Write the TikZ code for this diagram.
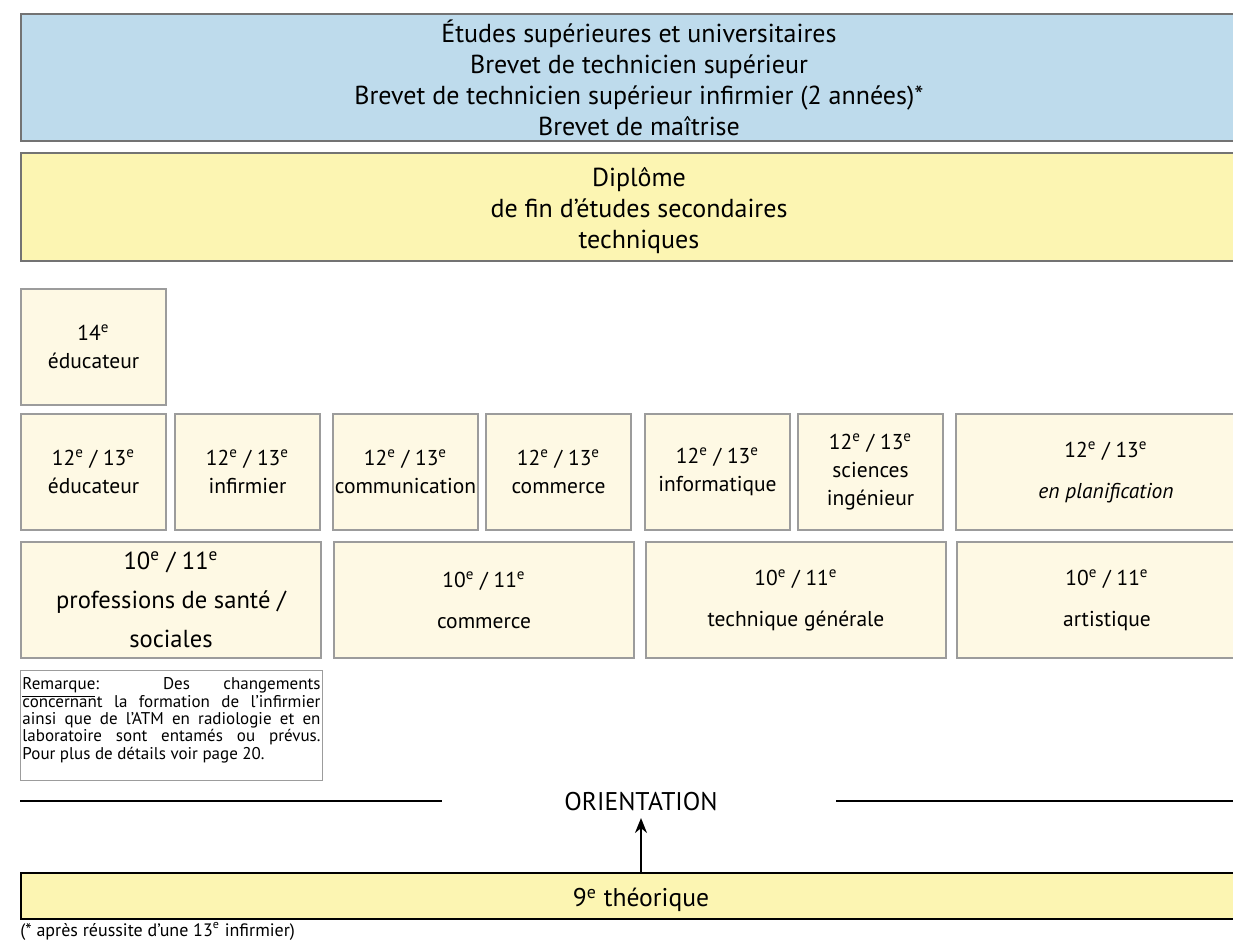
\documentclass[tikz,border=0pt]{standalone}
\usepackage{fontspec}
\setmainfont{PT Sans}
\usetikzlibrary{arrows.meta,positioning}
\definecolor{bleuhaut}{HTML}{BEDBEC}
\definecolor{jaune}{HTML}{FCF5B2}
\definecolor{creme}{HTML}{FEF9E4}
\definecolor{grisbord}{HTML}{9C9C9C}
\tikzset{
    %Define standard arrow tip
    >={Stealth[length=7.5pt,width=6pt]},
    %Define style for the wide bands
    bande/.style={
           rectangle,
           draw=black!55, line width=1pt,
           minimum width=618pt,
           inner sep=0pt,
           align=center,
           font=\fontsize{13}{15.5}\selectfont},
    %Define style for the class boxes
    classe/.style={
           rectangle,
           draw=grisbord, line width=1pt,
           fill=creme,
           minimum width=72.5pt,
           minimum height=58pt,
           inner sep=0pt,
           align=center,
           font=\fontsize{10.75}{14}\selectfont},
    double/.style={
           classe,
           minimum width=150pt,
           font=\fontsize{10.75}{20.5}\selectfont},
    % Define rule style
    trait/.style={
           line width=1pt}
}

\begin{document}
\begin{tikzpicture}
\useasboundingbox (0,0) rectangle (616.5pt,-471pt);
 %bands
\node[bande, fill=bleuhaut, minimum height=63.5pt, anchor=north west] (etudes) at (10pt,-6.5pt)
  {Études supérieures et universitaires\\Brevet de technicien supérieur\\Brevet de technicien supérieur infirmier (2 années)*\\Brevet de maîtrise};
\node[bande, fill=jaune, minimum height=54pt, below=5pt of etudes] (diplome)
  {\rule{0pt}{13.5pt}Diplôme\\de fin d’études secondaires\\techniques};
 %classes
\node[classe, below=13pt of diplome.south west, anchor=north west] (edu14) {14\textsuperscript{e}\\éducateur};
\node[classe, below=3.5pt of edu14] (edu12) {12\textsuperscript{e} / 13\textsuperscript{e}\\éducateur};
\node[classe, right=3.5pt of edu12] (inf12) {12\textsuperscript{e} / 13\textsuperscript{e}\\infirmier};
\node[classe, right=5.5pt of inf12] (comm12) {12\textsuperscript{e} / 13\textsuperscript{e}\\communication};
\node[classe, right=3pt of comm12] (com12) {12\textsuperscript{e} / 13\textsuperscript{e}\\commerce};
\node[classe, right=6pt of com12] (info12) {12\textsuperscript{e} / 13\textsuperscript{e}\\informatique};
\node[classe, right=3pt of info12] (sci12) {12\textsuperscript{e} / 13\textsuperscript{e}\\sciences\\ingénieur};
\node[double, right=5.5pt of sci12] (plan12) {12\textsuperscript{e} / 13\textsuperscript{e}\\\textit{en planification}};
\node[double, font=\fontsize{12.3}{19.5}\selectfont, below=5pt of edu12.south west, anchor=north west] (sante10)
  {10\textsuperscript{e} / 11\textsuperscript{e}\\professions de santé /\\sociales};
\node[double, right=5.5pt of sante10] (com10) {10\textsuperscript{e} / 11\textsuperscript{e}\\commerce};
\node[double, right=5pt of com10] (tech10) {10\textsuperscript{e} / 11\textsuperscript{e}\\technique générale};
\node[double, right=4.5pt of tech10] (art10) {10\textsuperscript{e} / 11\textsuperscript{e}\\artistique};
 %remark
\node[draw=grisbord, line width=0.5pt, inner sep=1pt, below=5.5pt of sante10.south west, anchor=north west] (remarque)
  {\parbox[c][53pt][t]{149pt}{\fontsize{8.5}{8.65}\selectfont\lineskiplimit=-5pt
   \rule{0pt}{8.7pt}\underline{Remarque}: Des changements\linebreak concernant la formation de l’infirmier\linebreak ainsi que de l’ATM en radiologie et en\linebreak laboratoire sont entamés ou prévus.\linebreak Pour plus de détails voir page 20.}};
 %orientation
\node[bande, draw=black, fill=jaune, minimum width=620pt, minimum height=23pt, font=\fontsize{12.8}{15}\selectfont,
  below=45.5pt of remarque.south west, anchor=north west] (theo9) {\rule{0pt}{13.5pt}9\textsuperscript{e} théorique};
\node[inner sep=2pt, font=\fontsize{12.8}{15}\selectfont, above=28.5pt of theo9] (orient) {ORIENTATION};
\node[inner sep=0pt, font=\fontsize{9}{10}\selectfont, anchor=base west] (note) at ([yshift=-8pt]theo9.south west)
  {(* après réussite d’une 13\textsuperscript{e} infirmier)};
\draw[trait] ([xshift=-59pt]orient.west) -- (orient.west -| theo9.west);
\draw[trait] ([xshift=57pt]orient.east) -- (orient.east -| theo9.east);
\draw[->, line width=1pt, shorten >=1.5pt] (theo9.north) -- (orient.south);
\end{tikzpicture}
\end{document}
